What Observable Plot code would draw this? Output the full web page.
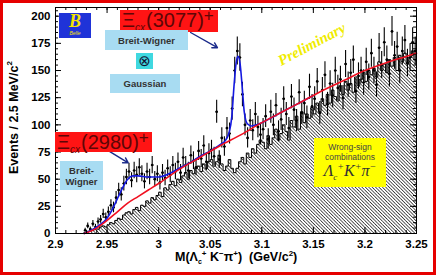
<!DOCTYPE html>
<html><head><meta charset="utf-8">
<script src="https://cdn.jsdelivr.net/npm/d3@7"></script>
<script src="https://cdn.jsdelivr.net/npm/@observablehq/plot@0.6"></script>
<style>
body{margin:0;background:#fff;}
#wrap{position:relative;width:436px;height:275px;overflow:hidden;font-family:"Liberation Sans",Arial,sans-serif;background:#fff;}
#wrap svg{position:absolute;left:0;top:0;}
.ov{position:absolute;box-sizing:border-box;}
.cy{background:#a8dcf2;color:#333;font-weight:bold;font-size:9.5px;display:flex;align-items:center;justify-content:center;text-align:center;line-height:11px;}
.rd{background:#ff1414;color:#5e0606;font-family:"Liberation Sans",Arial,sans-serif;font-size:20px;line-height:21px;white-space:nowrap;padding-left:2px;}
.rd .sb{font-size:10px;font-style:italic;position:relative;top:4px;margin-right:1px;}
.rd .sp{font-size:17px;position:relative;top:-6px;font-weight:300;}
#border{position:absolute;left:0;top:0;width:436px;height:275px;box-sizing:border-box;border:3px solid #e60000;}
</style></head><body><div id="wrap"></div>
<script>
const xStart = 2.9, binWidth = 0.0025;
// Right-sign Λc+ K− π+ candidates per 2.5 MeV bin, 2.900 – 3.250
const signal = [
  0,0,0,0,0,0,0,0,0,0,0,3,7,4,9,6,11,13,18,15,
  20,26,24,33,40,36,46,52,57,49,58,54,61,55,48,57,52,63,50,55,
  47,56,51,60,54,63,57,66,56,70,63,58,72,67,61,76,69,81,66,74,
  77,71,112,68,88,80,97,92,115,150,168,162,128,100,88,104,95,110,98,91,
  96,108,87,112,100,118,94,105,124,110,97,126,114,104,130,111,120,107,135,117,
  124,140,111,132,146,119,138,127,150,134,142,125,156,137,148,160,131,145,150,139,
  158,144,166,150,137,171,155,176,160,147,186,164,172,150,168,178,157,162,176,168
];
// Wrong-sign Λc+ K+ π− combinations per bin
const wrongSign = [
  0,0,0,0,0,0,0,0,0,0,0,1,2,2,3,4,4,6,7,6,
  8,10,9,12,14,13,17,19,20,18,22,24,21,26,25,30,28,33,31,35,
  38,34,42,40,45,48,44,50,47,53,56,50,58,55,60,62,57,64,60,66,
  68,62,66,72,64,58,62,68,60,56,60,66,70,64,74,70,78,74,82,86,
  84,78,90,82,88,96,86,92,100,94,86,104,98,108,96,112,102,110,106,116,
  110,120,112,124,118,128,120,132,126,122,136,128,140,132,138,130,144,136,142,148,
  140,150,146,152,144,158,150,156,148,160,154,162,150,164,158,166,156,162,168,160
];
// background function (red)
const bgX = [2.928,2.94,2.95,2.96,2.97,2.98,2.99,3.0,3.02,3.04,3.06,3.08,3.1,3.12,3.14,3.16,3.18,3.2,3.22,3.24,3.25];
const bgY = [0,5,12,20,28,34,40,46,59,70,81,91,102,112,122,132,141,150,157,163,166];
// total fit (blue)
const fitX = [2.928,2.94,2.95,2.955,2.96,2.965,2.97,2.975,2.98,2.99,3.0,3.01,3.02,3.03,3.04,3.05,3.06,3.065,3.068,3.071,3.073,3.075,3.077,3.079,3.081,3.083,3.086,3.09,3.095,3.1,3.12,3.14,3.15];
const fitY = [0,6,14,22,32,42,50,53,53,52,52,55,60,65,71,76,82,86,92,108,135,156,163,156,135,112,101,99,100,102,112,122,127];
const xTicks = [2.9,2.95,3.0,3.05,3.1,3.15,3.2,3.25];
const xTickLabels = ["2.9","2.95","3","3.05","3.1","3.15","3.2","3.25"];
const yTicks = [0,25,50,75,100,125,150,175,200];
const xMinor = d3.range(0,36).map(i => 2.9 + i*0.01);
const yMinor = d3.range(0,42).map(i => i*5);

const X0 = 2.9, X1 = 3.25, Y0 = 0, Y1 = 208;
const bins = signal.map((v,i) => ({x1: xStart+i*binWidth, x2: xStart+(i+1)*binWidth, xc: xStart+(i+0.5)*binWidth, n: v, ws: wrongSign[i]}));
const wsStep = bins.map(d => ({x: d.x1, y: d.ws})).concat([{x: bins[bins.length-1].x2, y: wrongSign[wrongSign.length-1]}]);
const nz = bins.filter(d => d.n > 0);
const bg = bgX.map((x,i) => ({x, y: bgY[i]}));
const fit = fitX.map((x,i) => ({x, y: fitY[i]}));

const tyMaj = (Y1-Y0)*6/226, tyMin = tyMaj/2;
const txMaj = (X1-X0)*6/361, txMin = txMaj/2;

const plot = Plot.plot({
  width: 436, height: 275,
  marginLeft: 55, marginRight: 20, marginTop: 7, marginBottom: 42,
  x: {domain: [X0, X1], label: null},
  y: {domain: [Y0, Y1], label: null},
  style: {background: "transparent", fontFamily: "Liberation Sans, Arial, sans-serif", color: "black"},
  marks: [
    Plot.rect(bins, {x1: "x1", x2: "x2", y1: 0, y2: "ws", fill: "url(#hatch)"}),
    Plot.line(wsStep, {x: "x", y: "y", curve: "step-after", stroke: "black", strokeWidth: 1}),
    Plot.ruleX(nz, {x: "xc", y1: d => d.n - Math.sqrt(d.n), y2: d => d.n + Math.sqrt(d.n), stroke: "black", strokeWidth: 1.1}),
    Plot.link(nz, {x1: "x1", x2: "x2", y1: "n", y2: "n", stroke: "black", strokeWidth: 1}),
    Plot.dot(nz, {x: "xc", y: "n", r: 1.3, fill: "black"}),
    Plot.line(fit, {x: "x", y: "y", curve: "monotone-x", stroke: "#1418e0", strokeWidth: 1.6}),
    Plot.line(bg, {x: "x", y: "y", curve: "monotone-x", stroke: "#f01020", strokeWidth: 1.6}),
    Plot.frame({stroke: "black", strokeWidth: 1}),
    // inward ticks, all four sides
    Plot.ruleX(xTicks, {x: d => d, y1: Y0, y2: Y0 + tyMaj, stroke: "black"}),
    Plot.ruleX(xMinor, {x: d => d, y1: Y0, y2: Y0 + tyMin, stroke: "black"}),
    Plot.ruleX(xTicks, {x: d => d, y1: Y1, y2: Y1 - tyMaj, stroke: "black"}),
    Plot.ruleX(xMinor, {x: d => d, y1: Y1, y2: Y1 - tyMin, stroke: "black"}),
    Plot.ruleY(yTicks, {y: d => d, x1: X0, x2: X0 + txMaj, stroke: "black"}),
    Plot.ruleY(yMinor, {y: d => d, x1: X0, x2: X0 + txMin, stroke: "black"}),
    Plot.ruleY(yTicks, {y: d => d, x1: X1, x2: X1 - txMaj, stroke: "black"}),
    Plot.ruleY(yMinor, {y: d => d, x1: X1, x2: X1 - txMin, stroke: "black"}),
    Plot.axisX(xTicks, {tickSize: 0, tickPadding: 6, fontSize: 11.5, fontWeight: "bold", label: null,
      tickFormat: d => xTickLabels[xTicks.findIndex(t => Math.abs(t-d) < 1e-9)]}),
    Plot.axisY(yTicks, {tickSize: 0, tickPadding: 5, fontSize: 11.5, fontWeight: "bold", label: null}),
    // arrows to the two states
    Plot.arrow([{x1: 3.031, y1: 185, x2: 3.057, y2: 171}], {x1: "x1", y1: "y1", x2: "x2", y2: "y2", stroke: "#1a2a8a", strokeWidth: 1.4, headLength: 6, bend: 0}),
    Plot.arrow([{x1: 2.9515, y1: 76, x2: 2.9705, y2: 65}], {x1: "x1", y1: "y1", x2: "x2", y2: "y2", stroke: "#1a2a8a", strokeWidth: 1.4, headLength: 6, bend: 0})
  ]
});

const svg = d3.select(plot);
const defs = svg.insert("defs", ":first-child");
const pat = defs.append("pattern").attr("id", "hatch").attr("patternUnits", "userSpaceOnUse")
  .attr("width", 2.4).attr("height", 2.4).attr("patternTransform", "rotate(-45)");
pat.append("line").attr("x1", 1.2).attr("y1", -1).attr("x2", 1.2).attr("y2", 4).attr("stroke", "#333").attr("stroke-width", 0.85);

const wrap = document.getElementById("wrap");
wrap.appendChild(plot);
wrap.insertAdjacentHTML("beforeend", `
<div class="ov" style="left:59px;top:13px;width:32px;height:25px;background:#1f33d8;color:#f4e400;text-align:center;">
  <div style="font-family:'Liberation Serif',serif;font-style:italic;font-weight:bold;font-size:18px;line-height:17px;">B</div>
  <div style="font-size:5px;line-height:6px;font-style:italic;">Belle</div>
</div>
<div class="ov rd" style="left:120px;top:10px;width:98px;height:22px;">Ξ<span class="sb">cx</span>(3077)<span class="sp">+</span></div>
<div class="ov cy" style="left:105px;top:30px;width:83px;height:20px;">Breit-Wigner</div>
<div class="ov" style="left:136px;top:53px;width:17px;height:16px;background:#3fd8e0;color:#113;font-size:15px;line-height:16px;text-align:center;font-family:'DejaVu Sans',sans-serif;">⊗</div>
<div class="ov cy" style="left:110px;top:74px;width:70px;height:19px;">Gaussian</div>
<div class="ov rd" style="left:55px;top:132px;width:97px;height:20px;line-height:20px;">Ξ<span class="sb">cx</span>(2980)<span class="sp">+</span></div>
<div class="ov cy" style="left:60px;top:161px;width:43px;height:29px;">Breit-<br>Wigner</div>
<div class="ov" style="left:262px;top:36px;width:100px;text-align:center;transform:rotate(-28deg);font-family:'Liberation Serif',serif;font-style:italic;font-weight:bold;font-size:15px;color:#f0ec00;">Preliminary</div>
<div class="ov" style="left:314px;top:138px;width:72px;height:49px;background:#ffff00;color:#444;text-align:center;">
  <div style="font-size:8.5px;line-height:10px;margin-top:4px;">Wrong-sign</div>
  <div style="font-size:8.5px;line-height:10px;">combinations</div>
  <div style="font-family:'Liberation Serif',serif;font-style:italic;font-size:16px;line-height:18px;color:#333;">Λ<span style="font-size:9px;position:relative;top:4px;">c</span><span style="font-size:10px;position:relative;top:-6px;">+</span>K<span style="font-size:10px;position:relative;top:-6px;">+</span>π<span style="font-size:10px;position:relative;top:-6px;">−</span></div>
</div>
<div class="ov" style="left:13px;top:118px;width:0;height:0;">
  <div style="position:absolute;left:-70px;top:-8px;width:140px;text-align:center;transform:rotate(-90deg);font-weight:bold;font-size:12.5px;white-space:nowrap;">Events / 2.5 MeV/c<sup style="font-size:8px;">2</sup></div>
</div>
<div class="ov" style="left:175px;top:251px;font-weight:bold;font-size:12.5px;line-height:13px;white-space:nowrap;">M(Λ<span style="font-size:7px;position:relative;top:3px;">c</span><span style="font-size:8px;position:relative;top:-5px;">+</span> K<span style="font-size:8px;position:relative;top:-5px;">−</span>π<span style="font-size:8px;position:relative;top:-5px;">+</span>)&nbsp;&nbsp;(GeV/c<span style="font-size:8px;position:relative;top:-5px;">2</span>)</div>
<div id="border"></div>
`);
</script>
</body></html>
